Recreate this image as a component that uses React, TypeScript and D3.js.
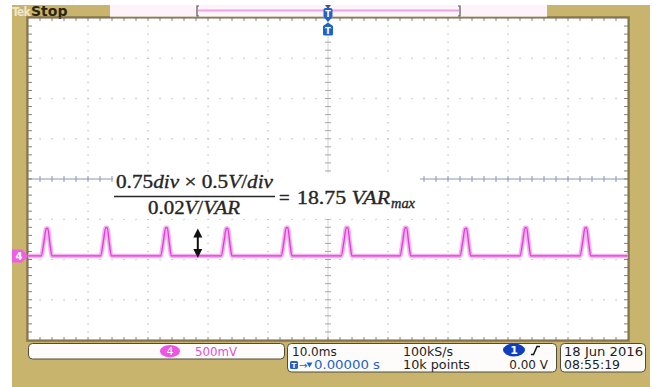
import React from "react";
import * as d3 from "d3";

// ---- data ----
const peakTimesMs = [-46.8, -36.9, -26.9, -16.8, -6.8, 3.2, 13.0, 23.0, 33.0, 43.0];
const peakAmpsV = [0.34, 0.35, 0.35, 0.34, 0.35, 0.35, 0.35, 0.34, 0.35, 0.35];
const ch4OffsetV = -0.955;
const arrowTimeMs = -21.7;
const timeDomainMs = [-50, 50];
const voltDomainV = [-2, 2];
const hDivs = 10;
const vDivs = 8;
const minorPerDiv = 5;
const chLabel = "4";
const chScale = "500mV";
const horizLabel = "10.0ms";
const sampleRate = "100kS/s";
const recordLen = "10k points";
const trigPos = "0.00000 s";
const trigLevel = "0.00 V";
const trigCh = "1";
const dateLabel = "18 Jun 2016";
const timeLabel = "08:55:19";

const W = 653, H = 387;
const GOLD = "#c8b46c";
const GOLD_DARK = "#9a8650";
const PINK = "#e23ad8";
const BLUE = "#1f63c9";

export default function App() {
  const x = d3.scaleLinear().domain(timeDomainMs).range([28, 628]);
  const y = d3.scaleLinear().domain(voltDomainV).range([340, 18]);
  const left = x(timeDomainMs[0]), right = x(timeDomainMs[1]);
  const top = y(voltDomainV[1]), bottom = y(voltDomainV[0]);
  const divW = (right - left) / hDivs, divH = (bottom - top) / vDivs;
  const cx = x(0), cy = y(0);

  // trace points
  const pts: [number, number][] = [[timeDomainMs[0], 0]];
  peakTimesMs.forEach((t, i) => {
    const a = peakAmpsV[i];
    pts.push([t - 1.0, 0], [t - 0.55, a * 0.5], [t - 0.15, a], [t + 0.1, a], [t + 0.45, a * 0.45], [t + 0.8, 0]);
  });
  pts.push([timeDomainMs[1], 0]);
  const line = d3.line<[number, number]>()
    .x((d) => x(d[0]))
    .y((d) => y(d[1] + ch4OffsetV))
    .curve(d3.curveMonotoneX);
  const tracePath = line(pts) || "";
  const baseY = y(ch4OffsetV);

  // grid dots
  const dots: JSX.Element[] = [];
  for (let i = 1; i < hDivs; i++) {
    if (i === hDivs / 2) continue;
    const gx = left + i * divW;
    for (let k = 1; k < vDivs * minorPerDiv; k++) {
      dots.push(<rect key={`v${i}-${k}`} x={gx - 0.6} y={top + (k * divH) / minorPerDiv - 0.6} width={1.3} height={1.3} fill="#bdbdbd" />);
    }
  }
  for (let j = 1; j < vDivs; j++) {
    if (j === vDivs / 2) continue;
    const gy = top + j * divH;
    for (let k = 1; k < hDivs * minorPerDiv; k++) {
      dots.push(<rect key={`h${j}-${k}`} x={left + (k * divW) / minorPerDiv - 0.6} y={gy - 0.6} width={1.3} height={1.3} fill="#bdbdbd" />);
    }
  }
  // ticks
  const ticks: JSX.Element[] = [];
  for (let k = 1; k < hDivs * minorPerDiv; k++) {
    const tx = left + (k * divW) / minorPerDiv;
    ticks.push(<line key={`tt${k}`} x1={tx} x2={tx} y1={top} y2={top + 3} stroke="#8a8070" strokeWidth={1} />);
    ticks.push(<line key={`tb${k}`} x1={tx} x2={tx} y1={bottom} y2={bottom - 3} stroke="#8a8070" strokeWidth={1} />);
    ticks.push(<line key={`tc${k}`} x1={tx} x2={tx} y1={cy - 3} y2={cy + 3} stroke="#8896b4" strokeWidth={1} />);
  }
  for (let k = 1; k < vDivs * minorPerDiv; k++) {
    const ty = top + (k * divH) / minorPerDiv;
    ticks.push(<line key={`tl${k}`} x1={left} x2={left + 4} y1={ty} y2={ty} stroke="#8a8070" strokeWidth={1} />);
    ticks.push(<line key={`tr${k}`} x1={right} x2={right - 4} y1={ty} y2={ty} stroke="#8a8070" strokeWidth={1} />);
    ticks.push(<line key={`tv${k}`} x1={cx - 3} x2={cx + 3} y1={ty} y2={ty} stroke="#a8a8a8" strokeWidth={1} />);
  }

  const ax = x(arrowTimeMs);
  const aTop = y(peakAmpsV[3] + ch4OffsetV);
  const aBot = baseY + 2;

  const sans = "DejaVu Sans, sans-serif";
  const serif = "Liberation Serif, DejaVu Serif, serif";

  return (
    <svg width={W} height={H} style={{ position: "absolute", left: 0, top: 0, background: "#fff" }} fontFamily={sans}>
      {/* frame */}
      <rect x={12} y={5} width={638} height={382} fill={GOLD} />
      <rect x={left - 2} y={top - 2} width={right - left + 4} height={bottom - top + 4} fill={GOLD_DARK} />
      <rect x={left} y={top} width={right - left} height={bottom - top} fill="#fff" />
      {/* top bar */}
      <rect x={110} y={5} width={437} height={12} fill="#fcf4fa" />
      <line x1={110} x2={547} y1={17} y2={17} stroke="#b8a880" strokeWidth={1} />
      <line x1={198} x2={459} y1={10.5} y2={10.5} stroke="#e7a6e2" strokeWidth={2} />
      <path d="M199,6 h-2 v10 h2 M458,6 h2 v10 h-2" fill="none" stroke="#555" strokeWidth={1.2} />
      <text x={12} y={16} fontSize={12} letterSpacing={-0.8} fontFamily="DejaVu Sans Condensed, DejaVu Sans, sans-serif" fontWeight="bold" fill="#efe6cc">Tek</text>
      <text x={31} y={16} fontSize={14} fontWeight="bold" fill="#2a2614">Stop</text>

      {/* grid */}
      {dots}
      <line x1={left} x2={right} y1={cy} y2={cy} stroke="#8896b4" strokeWidth={1} />
      <line x1={cx} x2={cx} y1={top} y2={bottom} stroke="#d4d4d4" strokeWidth={1} />
      {ticks}
      <rect x={left} y={top} width={right - left} height={bottom - top} fill="none" stroke="#6e6450" strokeWidth={1} />

      {/* trigger markers */}
      <path d={`M${cx - 3},5 L${cx + 3},5 L${cx},9 Z`} fill="#555" />
      <rect x={cx - 4.5} y={8} width={9} height={10} rx={2} fill={BLUE} />
      <text x={cx} y={16.5} fontSize={8} fontWeight="bold" fill="#fff" textAnchor="middle">T</text>
      <path d={`M${cx - 3.5},18 L${cx + 3.5},18 L${cx},22 Z`} fill={BLUE} />
      <path d={`M${cx - 5},26 L${cx},22.5 L${cx + 5},26 L${cx + 5},34 Q${cx + 5},35.5 ${cx + 3.5},35.5 L${cx - 3.5},35.5 Q${cx - 5},35.5 ${cx - 5},34 Z`} fill={BLUE} />
      <text x={cx} y={33.5} fontSize={8.5} fontWeight="bold" fill="#fff" textAnchor="middle">T</text>

      {/* formula */}
      <rect x={113} y={173} width={307} height={46} fill="#fff" />
      <g fontFamily={serif} fill="#262626" stroke="#262626" strokeWidth={0.35}>
        <text x={116} y={188} fontSize={19} textLength={157} lengthAdjust="spacingAndGlyphs">
          0.75<tspan fontStyle="italic">div</tspan> × 0.5<tspan fontStyle="italic">V</tspan>/<tspan fontStyle="italic">div</tspan>
        </text>
        <line x1={114} x2={275} y1={196.5} y2={196.5} strokeWidth={1.3} />
        <text x={148} y={214} fontSize={19} textLength={92} lengthAdjust="spacingAndGlyphs">
          0.02<tspan fontStyle="italic">V</tspan>/<tspan fontStyle="italic">VAR</tspan>
        </text>
        <text x={279} y={204} fontSize={19}>=</text>
        <text x={297} y={204} fontSize={19} textLength={93} lengthAdjust="spacingAndGlyphs">
          18.75 <tspan fontStyle="italic">VAR</tspan>
        </text>
        <text x={391} y={208} fontSize={14} fontStyle="italic" textLength={24} lengthAdjust="spacingAndGlyphs">max</text>
      </g>

      {/* trace */}
      <path d={tracePath} fill="none" stroke="#f3b2ef" strokeWidth={4.5} strokeLinejoin="round" />
      <path d={tracePath} fill="none" stroke={PINK} strokeWidth={1.3} strokeLinejoin="round" />

      {/* double arrow */}
      <line x1={ax} x2={ax} y1={aTop + 6} y2={aBot - 6} stroke="#111" strokeWidth={2} />
      <path d={`M${ax},${aTop} L${ax + 4.5},${aTop + 9} L${ax - 4.5},${aTop + 9} Z`} fill="#111" />
      <path d={`M${ax},${aBot} L${ax + 4.5},${aBot - 9} L${ax - 4.5},${aBot - 9} Z`} fill="#111" />

      {/* channel 4 marker */}
      <path d={`M12,${baseY - 6.5} L22,${baseY - 6.5} L28,${baseY} L22,${baseY + 6.5} L12,${baseY + 6.5} Z`} fill="#ef5fe4" />
      <text x={19} y={baseY + 4} fontSize={10} fill="#fff" textAnchor="middle" fontWeight="bold">{chLabel}</text>

      {/* bottom readouts */}
      <rect x={28.5} y={343.5} width={256} height={15.5} rx={4} fill="#fdfcfa" stroke="#4e4a40" strokeWidth={1} />
      <ellipse cx={170} cy={351.2} rx={10} ry={6.2} fill="#ef55e3" />
      <text x={170} y={355.3} fontSize={11} fill="#fff" textAnchor="middle">{chLabel}</text>
      <text x={195} y={356} fontSize={12} fill="#e24fd6" textLength={42} lengthAdjust="spacingAndGlyphs">{chScale}</text>

      <rect x={287.5} y={343.5} width={269} height={28.5} rx={4} fill="#fdfcfa" stroke="#4e4a40" strokeWidth={1} />
      <text x={292} y={355.5} fontSize={12} fill="#1e1e1e">{horizLabel}</text>
      <text x={403} y={355.5} fontSize={12} fill="#1e1e1e" textLength={50} lengthAdjust="spacingAndGlyphs">{sampleRate}</text>
      <ellipse cx={514} cy={350} rx={11} ry={6.5} fill="#0f3fc0" />
      <text x={514} y={354} fontSize={11} fill="#fff" textAnchor="middle" fontWeight="bold">{trigCh}</text>
      <path d="M531,354.5 h2.5 l3.5,-8 h3" fill="none" stroke="#111" strokeWidth={1.5} />
      <rect x={290} y={361} width={8} height={8} rx={1.5} fill={BLUE} />
      <text x={294} y={368} fontSize={7} fontWeight="bold" fill="#fff" textAnchor="middle">T</text>
      <text x={299} y={368.5} fontSize={10} fill={BLUE}>→</text>
      <path d="M306.5,362.5 h6 l-3,5 Z" fill={BLUE} />
      <text x={314} y={369} fontSize={12} fill={BLUE} textLength={66} lengthAdjust="spacingAndGlyphs">{trigPos}</text>
      <text x={403} y={369} fontSize={12} fill="#1e1e1e" textLength={67} lengthAdjust="spacingAndGlyphs">{recordLen}</text>
      <text x={548} y={369} fontSize={12} fill="#1e1e1e" textAnchor="end">{trigLevel}</text>

      <rect x={560.5} y={343.5} width={85} height={28.5} rx={4} fill="#fdfcfa" stroke="#4e4a40" strokeWidth={1} />
      <text x={564} y={355.5} fontSize={12} fill="#1e1e1e" textLength={79} lengthAdjust="spacingAndGlyphs">{dateLabel}</text>
      <text x={564} y={369} fontSize={12} fill="#1e1e1e" textLength={56} lengthAdjust="spacingAndGlyphs">{timeLabel}</text>
    </svg>
  );
}
